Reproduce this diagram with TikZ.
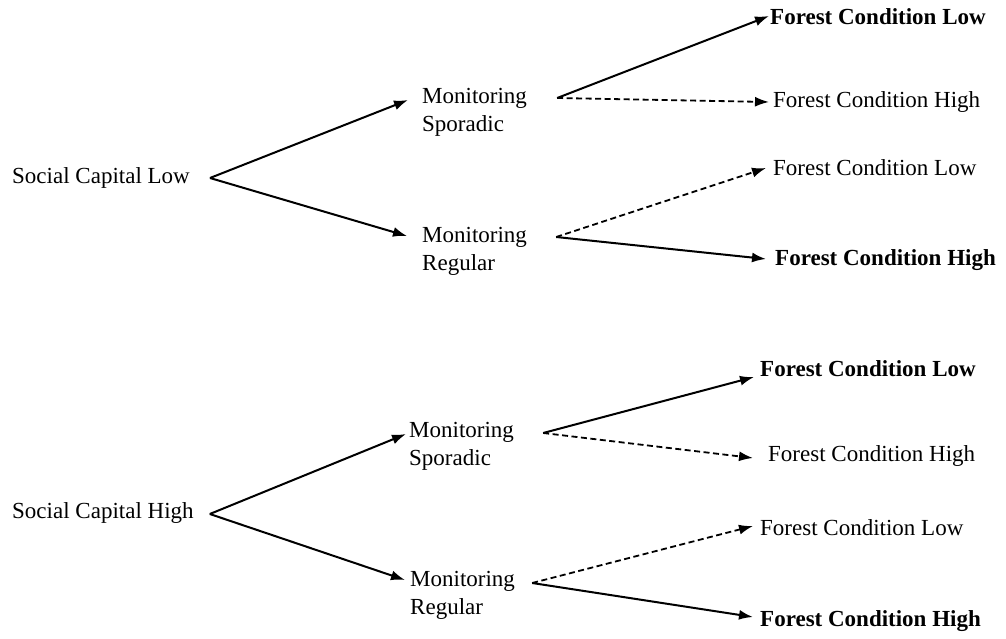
\documentclass[tikz,border=0pt]{standalone}
\usepackage{fontspec}
\setmainfont{Liberation Serif}
\usetikzlibrary{arrows.meta}
\tikzset{
  lbl/.style={anchor=west,inner sep=0pt,font=\fontsize{23}{28}\selectfont,align=left},
  blbl/.style={lbl,font=\fontsize{23}{28}\selectfont\bfseries},
  tip/.style={-{Latex[length=14pt,width=10pt]}},
  solidarr/.style={line width=2pt,tip},
  dasharr/.style={line width=1.8pt,dash pattern=on 6pt off 3.5pt,tip}
}
\begin{document}
\begin{tikzpicture}[x=1pt,y=-1pt]
\useasboundingbox (0,0) rectangle (1006,639);
% top tree
\node[lbl] (scl) at (12,178) {Social Capital Low};
\node[lbl] (ms1) at (422,112) {Monitoring\\Sporadic};
\node[lbl] (mr1) at (422,251) {Monitoring\\Regular};
\node[blbl] (f1) at (770,17) {Forest Condition Low};
\node[lbl] (f2) at (773,102) {Forest Condition High};
\node[lbl] (f3) at (773,168) {Forest Condition Low};
\node[blbl] (f4) at (775,260) {Forest Condition High};
\draw[solidarr] ([xshift=20pt]scl.east) -- ([xshift=-14pt,yshift=12pt]ms1.west);
\draw[solidarr] ([xshift=20pt]scl.east) -- ([xshift=-15pt,yshift=15pt]mr1.west);
\draw[solidarr] ([xshift=30pt,yshift=14pt]ms1.east) -- ([xshift=-1pt,yshift=1pt]f1.west);
\draw[dasharr] ([xshift=30pt,yshift=14pt]ms1.east) -- ([xshift=-4pt,yshift=0pt]f2.west);
\draw[dasharr] ([xshift=29pt,yshift=14pt]mr1.east) -- ([xshift=-7pt]f3.west);
\draw[solidarr] ([xshift=29pt,yshift=14pt]mr1.east) -- ([xshift=-9pt,yshift=1pt]f4.west);
% bottom tree
\node[lbl] (sch) at (12,513) {Social Capital High};
\node[lbl] (ms2) at (409,446) {Monitoring\\Sporadic};
\node[lbl] (mr2) at (410,595) {Monitoring\\Regular};
\node[blbl] (g1) at (760,369) {Forest Condition Low};
\node[lbl] (g2) at (768,456) {Forest Condition High};
\node[lbl] (g3) at (760,528) {Forest Condition Low};
\node[blbl] (g4) at (760,621) {Forest Condition High};
\draw[solidarr] ([xshift=16pt,yshift=-1pt]sch.east) -- ([xshift=-3pt,yshift=12pt]ms2.west);
\draw[solidarr] ([xshift=16pt,yshift=-1pt]sch.east) -- ([xshift=-5pt,yshift=15pt]mr2.west);
\draw[solidarr] ([xshift=29pt,yshift=13pt]ms2.east) -- ([xshift=-6pt,yshift=-8pt]g1.west);
\draw[dasharr] ([xshift=29pt,yshift=13pt]ms2.east) -- ([xshift=-15pt,yshift=-2pt]g2.west);
\draw[dasharr] ([xshift=17pt,yshift=12pt]mr2.east) -- ([xshift=-7pt,yshift=2pt]g3.west);
\draw[solidarr] ([xshift=17pt,yshift=12pt]mr2.east) -- ([xshift=-7pt,yshift=4pt]g4.west);
\end{tikzpicture}
\end{document}
